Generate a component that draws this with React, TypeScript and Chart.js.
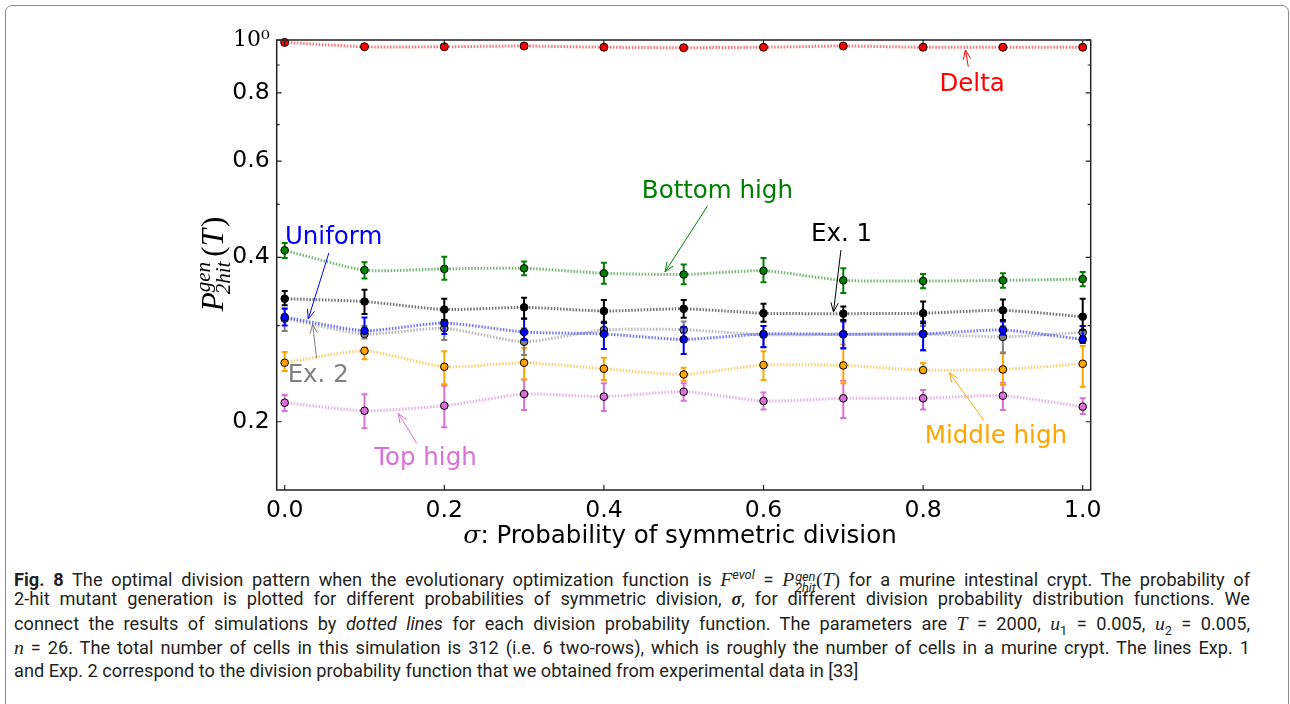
import React, { useEffect, useRef } from "react";
import { Chart, registerables } from "chart.js";
Chart.register(...registerables);

// ---------- data ----------
const sigma = [0, 0.1, 0.2, 0.3, 0.4, 0.5, 0.6, 0.7, 0.8, 0.9, 1.0];

const deltaMean = [0.99, 0.972, 0.972, 0.975, 0.97, 0.968, 0.97, 0.975, 0.97, 0.97, 0.97];
const deltaLow = [0.986, 0.968, 0.968, 0.971, 0.966, 0.964, 0.966, 0.971, 0.966, 0.966, 0.966];
const deltaHigh = [0.994, 0.976, 0.976, 0.979, 0.974, 0.972, 0.974, 0.979, 0.974, 0.974, 0.974];

const bottomMean = [0.412, 0.379, 0.381, 0.382, 0.374, 0.372, 0.378, 0.363, 0.362, 0.363, 0.365];
const bottomLow = [0.399, 0.366, 0.364, 0.371, 0.358, 0.357, 0.36, 0.344, 0.351, 0.352, 0.354];
const bottomHigh = [0.425, 0.392, 0.401, 0.393, 0.391, 0.388, 0.399, 0.382, 0.373, 0.374, 0.376];

const ex1Mean = [0.336, 0.332, 0.321, 0.324, 0.319, 0.322, 0.316, 0.3155, 0.316, 0.32, 0.3115];
const ex1Low = [0.327, 0.315, 0.307, 0.309, 0.305, 0.31, 0.305, 0.307, 0.303, 0.307, 0.2945];
const ex1High = [0.347, 0.349, 0.336, 0.3375, 0.334, 0.334, 0.329, 0.325, 0.332, 0.335, 0.336];

const uniformMean = [0.311, 0.2936, 0.3033, 0.292, 0.2896, 0.283, 0.2896, 0.2892, 0.2896, 0.2945, 0.283];
const uniformLow = [0.3, 0.2908, 0.2896, 0.2822, 0.2717, 0.266, 0.274, 0.2728, 0.2705, 0.2885, 0.2787];
const uniformHigh = [0.322, 0.3105, 0.3072, 0.3089, 0.3032, 0.298, 0.2996, 0.3053, 0.3053, 0.3053, 0.2996];

const ex2Mean = [0.3089, 0.2896, 0.2966, 0.2802, 0.2945, 0.2949, 0.2887, 0.2892, 0.2896, 0.286, 0.2916];
const ex2Low = [0.2933, 0.2841, 0.2822, 0.265, 0.2887, 0.2908, 0.2736, 0.2724, 0.2705, 0.2671, 0.2841];
const ex2High = [0.3226, 0.2996, 0.3032, 0.2966, 0.304, 0.3053, 0.2996, 0.3072, 0.2996, 0.2996, 0.2996];

const middleMean = [0.2565, 0.2697, 0.2522, 0.2565, 0.2501, 0.2442, 0.254, 0.2536, 0.2487, 0.2494, 0.2554];
const middleLow = [0.2476, 0.2604, 0.2343, 0.2391, 0.2384, 0.2377, 0.2384, 0.2352, 0.2463, 0.2336, 0.2319];
const middleHigh = [0.2684, 0.2734, 0.2692, 0.2727, 0.2619, 0.2512, 0.2692, 0.2771, 0.2563, 0.268, 0.2752];

const topMean = [0.2167, 0.2095, 0.214, 0.2248, 0.2223, 0.227, 0.2183, 0.2208, 0.2208, 0.2232, 0.2131];
const topLow = [0.2092, 0.1946, 0.1954, 0.2101, 0.2093, 0.2186, 0.2107, 0.2032, 0.2107, 0.2101, 0.2067];
const topHigh = [0.224, 0.2247, 0.2328, 0.2391, 0.2352, 0.2352, 0.2262, 0.2377, 0.2286, 0.2357, 0.2208];

const xTicks = [0, 0.2, 0.4, 0.6, 0.8, 1.0];
const yMajorTicks = [0.2, 0.4, 0.6, 0.8, 1.0];
const yMinorTicks = [0.3, 0.5, 0.7, 0.9];

// annotation labels: text, colour, text centre x / baseline y (data), arrow tail and tip (data)
const annLabels = ["Delta", "Bottom high", "Ex. 1", "Uniform", "Ex. 2", "Top high", "Middle high"];
const annColors = ["#ff0000", "#008000", "#000000", "#0000ff", "#808080", "#da70d6", "#ffa500"];
const annTextX = [0.8614, 0.5422, 0.6977, 0.0613, 0.042, 0.1764, 0.8912];
const annTextY = [0.8076, 0.5145, 0.4286, 0.4231, 0.2367, 0.1665, 0.1827];
const annTailX = [0.8566, 0.5298, 0.697, 0.0554, 0.04, 0.1654, 0.8759];
const annTailY = [0.894, 0.4965, 0.4124, 0.4078, 0.2614, 0.1827, 0.2014];
const annTipX = [0.853, 0.4767, 0.6877, 0.0295, 0.035, 0.1423, 0.8329];
const annTipY = [0.959, 0.3764, 0.3178, 0.3084, 0.3018, 0.2072, 0.2458];

// ---------- helpers ----------
function rgba(hex: string, a: number) {
  const n = parseInt(hex.slice(1), 16);
  return `rgba(${(n >> 16) & 255},${(n >> 8) & 255},${n & 255},${a})`;
}

const seriesDefs = [
  { label: "Delta", color: "#ff0000", mean: deltaMean, low: deltaLow, high: deltaHigh },
  { label: "Bottom high", color: "#008000", mean: bottomMean, low: bottomLow, high: bottomHigh },
  { label: "Ex. 1", color: "#000000", mean: ex1Mean, low: ex1Low, high: ex1High },
  { label: "Uniform", color: "#0000ff", mean: uniformMean, low: uniformLow, high: uniformHigh },
  { label: "Ex. 2", color: "#808080", mean: ex2Mean, low: ex2Low, high: ex2High },
  { label: "Middle high", color: "#ffa500", mean: middleMean, low: middleLow, high: middleHigh },
  { label: "Top high", color: "#da70d6", mean: topMean, low: topLow, high: topHigh },
];

const errorBarPlugin = {
  id: "errorBars",
  beforeDatasetDraw(chart: any, args: any) {
    const def = seriesDefs[args.index];
    if (!def) return;
    const xs = chart.scales.x;
    const ys = chart.scales.y;
    const ctx = chart.ctx;
    ctx.save();
    ctx.strokeStyle = def.color;
    ctx.lineWidth = 2;
    def.low.forEach((lo: number, i: number) => {
      const x = xs.getPixelForValue(sigma[i]);
      const y0 = ys.getPixelForValue(lo);
      const y1 = ys.getPixelForValue(def.high[i]);
      ctx.beginPath();
      ctx.moveTo(x, y0);
      ctx.lineTo(x, y1);
      ctx.moveTo(x - 3, y0);
      ctx.lineTo(x + 3, y0);
      ctx.moveTo(x - 3, y1);
      ctx.lineTo(x + 3, y1);
      ctx.stroke();
    });
    ctx.restore();
  },
};

const framePlugin = {
  id: "frame",
  afterDatasetsDraw(chart: any) {
    const { ctx, chartArea: a } = chart;
    const xs = chart.scales.x;
    const ys = chart.scales.y;
    ctx.save();
    ctx.strokeStyle = "#222";
    ctx.lineWidth = 1.5;
    ctx.strokeRect(a.left, a.top, a.right - a.left, a.bottom - a.top);
    ctx.lineWidth = 1.2;
    ctx.beginPath();
    xTicks.forEach((v) => {
      const x = xs.getPixelForValue(v);
      ctx.moveTo(x, a.bottom);
      ctx.lineTo(x, a.bottom - 5);
      ctx.moveTo(x, a.top);
      ctx.lineTo(x, a.top + 5);
    });
    yMajorTicks.forEach((v) => {
      const y = ys.getPixelForValue(v);
      ctx.moveTo(a.left, y);
      ctx.lineTo(a.left + 5, y);
      ctx.moveTo(a.right, y);
      ctx.lineTo(a.right - 5, y);
    });
    yMinorTicks.forEach((v) => {
      const y = ys.getPixelForValue(v);
      ctx.moveTo(a.left, y);
      ctx.lineTo(a.left + 3, y);
      ctx.moveTo(a.right, y);
      ctx.lineTo(a.right - 3, y);
    });
    ctx.stroke();
    ctx.restore();
  },
};

const textPlugin = {
  id: "texts",
  afterDraw(chart: any) {
    const { ctx, chartArea: a } = chart;
    const xs = chart.scales.x;
    const ys = chart.scales.y;
    ctx.save();

    // annotations
    annLabels.forEach((t, i) => {
      const c = annColors[i];
      ctx.fillStyle = c;
      ctx.strokeStyle = c;
      ctx.font = '24.5px "DejaVu Sans"';
      ctx.textAlign = "center";
      ctx.textBaseline = "alphabetic";
      ctx.fillText(t, xs.getPixelForValue(annTextX[i]), ys.getPixelForValue(annTextY[i]));
      const x0 = xs.getPixelForValue(annTailX[i]);
      const y0 = ys.getPixelForValue(annTailY[i]);
      const x1 = xs.getPixelForValue(annTipX[i]);
      const y1 = ys.getPixelForValue(annTipY[i]);
      ctx.lineWidth = 1;
      ctx.beginPath();
      ctx.moveTo(x0, y0);
      ctx.lineTo(x1, y1);
      const ang = Math.atan2(y1 - y0, x1 - x0);
      const L = 10;
      const s = 0.38;
      ctx.moveTo(x1 - L * Math.cos(ang - s), y1 - L * Math.sin(ang - s));
      ctx.lineTo(x1, y1);
      ctx.lineTo(x1 - L * Math.cos(ang + s), y1 - L * Math.sin(ang + s));
      ctx.stroke();
    });

    // x title
    ctx.fillStyle = "#000";
    ctx.textAlign = "left";
    ctx.textBaseline = "alphabetic";
    const xc = (a.left + a.right) / 2 - 3.7;
    const yb = a.bottom + 52.5;
    ctx.font = 'italic 25px "DejaVu Serif"';
    const wS = ctx.measureText("σ").width;
    ctx.font = '24.5px "DejaVu Sans"';
    const rest = ": Probability of symmetric division";
    const wR = ctx.measureText(rest).width;
    const sx = xc - (wS + wR) / 2;
    ctx.font = 'italic 25px "DejaVu Serif"';
    ctx.fillText("σ", sx, yb);
    ctx.font = '24.5px "DejaVu Sans"';
    ctx.fillText(rest, sx + wS, yb);

    // y title (rotated)
    ctx.translate(a.left - 53.4, (a.top + a.bottom) / 2);
    ctx.rotate(-Math.PI / 2);
    const big = 'italic 31px "Liberation Serif"';
    const small = 'italic 21px "Liberation Serif"';
    const up = '31px "Liberation Serif"';
    ctx.font = big;
    const wP = ctx.measureText("P").width;
    const wT = ctx.measureText("T").width;
    ctx.font = small;
    const wGen = ctx.measureText("gen").width;
    const w2 = ctx.measureText("2hit").width;
    const wScr = Math.max(wGen, w2);
    ctx.font = up;
    const wO = ctx.measureText("(").width;
    const wC = ctx.measureText(")").width;
    const total = wP + wScr + 3 + wO + wT + wC;
    let x = -total / 2;
    ctx.font = big;
    ctx.fillText("P", x, 0);
    x += wP;
    ctx.font = small;
    ctx.fillText("gen", x, -13);
    ctx.fillText("2hit", x - 2, 7);
    x += wScr + 3;
    ctx.font = up;
    ctx.fillText("(", x, 0);
    x += wO;
    ctx.font = big;
    ctx.fillText("T", x, 0);
    x += wT + 2;
    ctx.font = up;
    ctx.fillText(")", x, 0);
    ctx.restore();
  },
};

const Stack = ({ sup, sub }: { sup: string; sub: string }) => (
  <span
    style={{
      display: "inline-flex",
      flexDirection: "column",
      verticalAlign: "0.4em",
      lineHeight: 0.9,
      fontSize: "0.7em",
      fontStyle: "italic",
      marginLeft: 1,
    }}
  >
    <span>{sup}</span>
    <span>{sub}</span>
  </span>
);

const serif: React.CSSProperties = { fontFamily: '"Liberation Serif", serif', fontStyle: "italic", fontSize: "1.08em" };
const up: React.CSSProperties = { fontFamily: '"Liberation Serif", serif', fontSize: "1.08em" };

export default function App() {
  const ref = useRef<HTMLCanvasElement>(null);
  useEffect(() => {
    const datasets = seriesDefs.map((s) => ({
      label: s.label,
      data: s.mean.map((v, i) => ({ x: sigma[i], y: v })),
      borderColor: rgba(s.color, 0.55),
      borderWidth: 3,
      borderDash: [1.5, 1.6],
      tension: 0.2,
      pointRadius: s.label === "Delta" ? 4 : 3.8,
      pointBackgroundColor: s.color,
      pointBorderColor: "#000",
      pointBorderWidth: 1,
      clip: false as any,
      fill: false,
    }));
    const chart = new Chart(ref.current!, {
      type: "line",
      data: { datasets },
      plugins: [errorBarPlugin, framePlugin, textPlugin],
      options: {
        animation: false,
        responsive: false,
        devicePixelRatio: 1,
        layout: { padding: { left: 0, top: 40, right: 199.3, bottom: 0 } },
        plugins: { legend: { display: false }, tooltip: { enabled: false } },
        scales: {
          x: {
            type: "linear",
            min: -0.01,
            max: 1.01,
            grid: { display: false, drawTicks: false },
            border: { display: false },
            afterBuildTicks: (s: any) => {
              s.ticks = xTicks.map((v) => ({ value: v }));
            },
            afterFit: (s: any) => {
              s.height = 70;
            },
            ticks: {
              padding: 7,
              color: "#000",
              autoSkip: false,
              maxRotation: 0,
              font: { family: "DejaVu Sans", size: 23.5 },
              callback: (v: any) => Number(v).toFixed(1),
            },
          },
          y: {
            type: "logarithmic",
            min: 0.15,
            max: 1.0,
            grid: { display: false, drawTicks: false },
            border: { display: false },
            afterBuildTicks: (s: any) => {
              s.ticks = [...yMajorTicks, ...yMinorTicks].sort((p, q) => p - q).map((v) => ({ value: v }));
            },
            afterFit: (s: any) => {
              s.width = 276.7;
            },
            ticks: {
              padding: 7,
              color: "#000",
              autoSkip: false,
              font: (c: any) =>
                c.tick && c.tick.value === 1
                  ? { family: "DejaVu Serif", size: 22 }
                  : { family: "DejaVu Sans", size: 23.5 },
              callback: (v: any) => {
                const n = Number(v);
                if (n === 1) return "10⁰";
                return yMajorTicks.includes(n) ? n.toFixed(1) : "";
              },
            },
          },
        },
      } as any,
    });
    return () => chart.destroy();
  }, []);

  const lineBase: React.CSSProperties = {
    position: "absolute",
    left: 14,
    width: 1236,
    height: 24,
    lineHeight: "24px",
    fontFamily: "Roboto, sans-serif",
    fontSize: 18.2,
    color: "#231f20",
    whiteSpace: "nowrap",
  };
  const just: React.CSSProperties = { ...lineBase, textAlign: "justify", textAlignLast: "justify" as any };

  return (
    <div style={{ position: "absolute", left: 0, top: 0, width: 1290, height: 704, overflow: "hidden", background: "#fff" }}>
      <div
        style={{
          position: "absolute",
          left: 5,
          top: 5,
          width: 1284,
          height: 740,
          border: "1.5px solid #8a8a8a",
          borderRadius: 7,
          boxSizing: "border-box",
        }}
      />
      <canvas ref={ref} width={1290} height={560} style={{ position: "absolute", left: 0, top: 0, width: 1290, height: 560 }} />
      <div style={{ ...just, top: 563 }}>
        <b>Fig. 8</b> The optimal division pattern when the evolutionary optimization function is{" "}
        <span style={serif}>F</span>
        <sup style={{ fontStyle: "italic", fontSize: "0.7em" }}>evol</sup> ={" "}
        <span style={serif}>P</span>
        <Stack sup="gen" sub="2hit" />
        <span style={up}>(</span>
        <span style={serif}>T</span>
        <span style={up}>)</span> for a murine intestinal crypt. The probability of
      </div>
      <div style={{ ...just, top: 587 }}>
        2-hit mutant generation is plotted for different probabilities of symmetric division,{" "}
        <b style={{ fontStyle: "italic", fontFamily: '"Liberation Serif", serif' }}>σ</b>, for different division probability
        distribution functions. We
      </div>
      <div style={{ ...just, top: 611 }}>
        connect the results of simulations by <i>dotted lines</i> for each division probability function. The parameters are{" "}
        <span style={serif}>T</span> = 2000, <span style={serif}>u</span>
        <sub style={{ fontSize: "0.7em" }}>1</sub> = 0.005, <span style={serif}>u</span>
        <sub style={{ fontSize: "0.7em" }}>2</sub> = 0.005,
      </div>
      <div style={{ ...just, top: 635 }}>
        <span style={serif}>n</span> = 26. The total number of cells in this simulation is 312 (i.e. 6 two-rows), which is roughly the
        number of cells in a murine crypt. The lines Exp. 1
      </div>
      <div style={{ ...lineBase, top: 659 }}>
        and Exp. 2 correspond to the division probability function that we obtained from experimental data in [33]
      </div>
    </div>
  );
}
